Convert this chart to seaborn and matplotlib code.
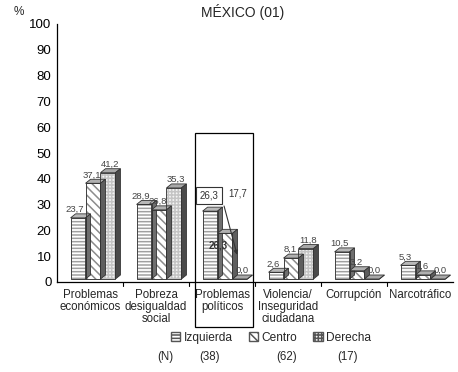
import matplotlib
matplotlib.use("Agg")
import matplotlib.pyplot as plt
from matplotlib.patches import Polygon, Rectangle, Patch
from matplotlib.transforms import Affine2D
import seaborn as sns
import pandas as pd

categories = ["Problemas\neconómicos", "Pobreza\ndesigualdad\nsocial", "Problemas\npolíticos",
              "Violencia/\nInseguridad\nciudadana", "Corrupción", "Narcotráfico"]
series = ["Izquierda", "Centro", "Derecha"]
izquierda = [23.7, 28.9, 26.3, 2.6, 10.5, 5.3]
centro = [37.1, 26.8, 17.7, 8.1, 3.2, 1.6]
derecha = [41.2, 35.3, 0.0, 11.8, 0.0, 0.0]
counts = ["(38)", "(62)", "(17)"]
yticks = [0, 10, 20, 30, 40, 50, 60, 70, 80, 90, 100]

sns.set_style("white")
plt.rcParams["font.family"] = ["Liberation Sans", "DejaVu Sans"]
plt.rcParams["hatch.linewidth"] = 1.1

df = pd.DataFrame({
    "cat": categories * 3,
    "serie": [s for s in series for _ in categories],
    "val": izquierda + centro + derecha,
})

fig = plt.figure(figsize=(4.58, 3.72), dpi=100)
ax = fig.add_axes([57 / 458, 1 - 282 / 372, 396 / 458, 258 / 372])

sns.barplot(data=df, x="cat", y="val", hue="serie", hue_order=series, order=categories,
            width=0.68, palette=["white", "white", "white"], ax=ax, legend=False,
            saturation=1)

ax.set_xlim(-0.5, 5.5)
ax.set_ylim(0, 100)
ax.set_yticks(yticks)
ax.set_xlabel("")
ax.set_ylabel("")

styles = {
    "Izquierda": dict(hatch="-----", edge="#a0a0a0", fc="white", top="#b8b8b8", side="#6e6e6e", lx=0.0),
    "Centro": dict(hatch="\\\\\\\\", edge="#8c8c8c", fc="white", top="#b0b0b0", side="#5e5e5e", lx=1.5),
    "Derecha": dict(hatch="+++++", edge="#c4c4c4", fc="#f4f4f4", top="#a8a8a8", side="#4a4a4a", lx=3.5),
}

fig.canvas.draw()
shift = Affine2D().translate(3, 3)
disp = ax.transData + shift
dx_px, dy_px = 5, 4
inv = ax.transData.inverted()
o = inv.transform((0, 0))
d = inv.transform((dx_px, dy_px))
ddx, ddy = d[0] - o[0], d[1] - o[1]

n = len(categories)
bars = list(ax.patches)
for i, p in enumerate(bars):
    s = series[i // n]
    st = styles[s]
    p.set_transform(disp)
    p.set_facecolor(st["fc"])
    p.set_edgecolor(st["edge"])
    p.set_hatch(st["hatch"])
    p.set_linewidth(0.6)
    x0, w, h = p.get_x(), p.get_width(), p.get_height()
    x1 = x0 + w
    top = Polygon([(x0, h), (x1, h), (x1 + ddx, h + ddy), (x0 + ddx, h + ddy)],
                  closed=True, facecolor=st["top"], edgecolor="#333333", lw=0.6, transform=disp)
    side = Polygon([(x1, 0), (x1 + ddx, ddy), (x1 + ddx, h + ddy), (x1, h)],
                   closed=True, facecolor=st["side"], edgecolor="#333333", lw=0.6, transform=disp)
    ax.add_patch(top)
    ax.add_patch(side)
    # outline of the front face
    ax.add_patch(Rectangle((x0, 0), w, h, fill=False, edgecolor="#333333", lw=0.6, transform=disp))

    cat = i % n
    label = f"{p.get_height():.1f}".replace(".", ",")
    xc = x0 + w / 2
    if cat == 2 and s == "Izquierda":
        ax.annotate(label, (xc, h), xytext=(1.5, 10), textcoords="offset points",
                    ha="center", va="bottom", fontsize=7, color="#333333", zorder=6,
                    bbox=dict(boxstyle="square,pad=0.35", fc="white", ec="#333333", lw=0.8))
        continue
    if cat == 2 and s == "Centro":
        ax.annotate(label, (xc, h), xytext=(11, 31), textcoords="offset points",
                    ha="center", va="center", fontsize=7, color="#333333")
        ax.annotate("26,3", (xc, h), xytext=(-3, -6.5), textcoords="offset points",
                    ha="center", va="center", fontsize=7, color="#333333", fontweight="bold")
        continue
    ax.annotate(label, (xc, h), xytext=(st["lx"], 5), textcoords="offset points",
                ha="center", va="bottom", fontsize=6.8, color="#444444")

# pointer line from the boxed label
ax.annotate("", xy=(2.24, 9.5), xytext=(2.02, 30.5),
            arrowprops=dict(arrowstyle="-|>", color="#333333", lw=0.8, mutation_scale=6))

# frame around the highlighted category
ax.add_patch(Rectangle((1.59, -17.4), 0.88, 75.1, fill=False, edgecolor="black", lw=0.9,
                       clip_on=False, zorder=5))

sns.despine(ax=ax, top=True, right=True)
for sp in ["left", "bottom"]:
    ax.spines[sp].set_color("black")
    ax.spines[sp].set_linewidth(0.9)
ax.tick_params(axis="y", direction="out", length=3, width=0.8, labelsize=9.5, pad=1, colors="black")
ax.set_xticks(range(n))
ax.set_xticklabels(categories, fontsize=8.3, linespacing=1.0)
ax.tick_params(axis="x", length=0, pad=5)
for b in [0.5, 1.5, 2.5, 3.5, 4.5]:
    ax.plot([b, b], [0, -1.4], color="black", lw=0.8, clip_on=False)

fig.text(14 / 458, 1 - 12 / 372, "%", fontsize=8.5, ha="left", va="center")
fig.text(243 / 458, 1 - 12 / 372, "MÉXICO (01)", fontsize=10, ha="center", va="center")

handles = [Patch(facecolor=styles[s]["fc"], edgecolor=styles[s]["edge"], hatch=styles[s]["hatch"])
           for s in series]
leg = fig.legend(handles, series, loc="center", bbox_to_anchor=(271 / 458, 1 - 338 / 372), ncol=3,
                 frameon=False, fontsize=8.6, handlelength=0.8, handleheight=0.8, handletextpad=0.3,
                 columnspacing=1.3, borderaxespad=0)
for hp in leg.get_patches():
    hp.set_edgecolor("#555555")

fig.text(165 / 458, 1 - 357 / 372, "(N)", fontsize=8.3, ha="center", va="center")
for xpx, c in zip([210, 287, 347], counts):
    fig.text(xpx / 458, 1 - 357 / 372, c, fontsize=8.3, ha="center", va="center")

fig.savefig("out.png", dpi=100)
